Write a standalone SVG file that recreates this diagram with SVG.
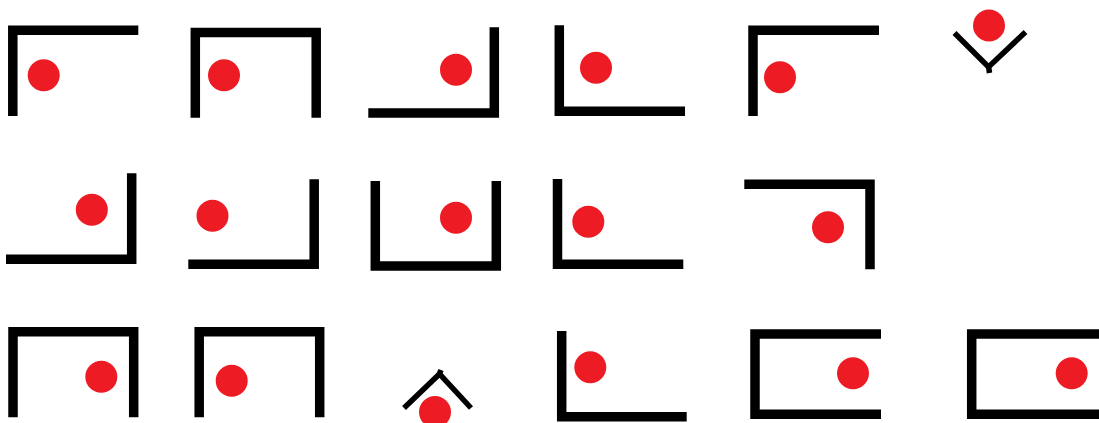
<svg xmlns="http://www.w3.org/2000/svg" width="1099" height="423" viewBox="0 0 1099 423">
<style>
.w{fill:none;stroke:#000;stroke-width:9.5;stroke-linejoin:miter;stroke-linecap:butt}
.t{fill:none;stroke:#000;stroke-width:5.5;stroke-linejoin:miter;stroke-linecap:butt}
.d{fill:#ED1C24}
</style>
<rect width="1099" height="423" fill="#fff"/>
<g id="s1"><polyline class="w" points="12.8,116 12.8,30.3 138.3,30.3"/><circle class="d" cx="43.7" cy="75.3" r="16"/></g>
<g id="s2"><polyline class="w" points="195.3,117.7 195.3,32.5 316.2,32.5 316.2,117.7"/><circle class="d" cx="224" cy="75.3" r="16"/></g>
<g id="s3"><polyline class="w" points="368.3,113 494.3,113 494.3,27.3"/><circle class="d" cx="456" cy="69.7" r="16"/></g>
<g id="s4"><polyline class="w" points="559.3,25.3 559.3,111.3 685,111.3"/><circle class="d" cx="596" cy="67.8" r="16"/></g>
<g id="s5"><polyline class="w" points="753,116 753,30.3 879,30.3"/><circle class="d" cx="780" cy="77.2" r="16"/></g>
<g id="s6"><polyline class="t" points="954.5,33 988.5,67 1025.5,32"/><path class="t" d="M988.5,66 L989.5,73"/><circle class="d" cx="989" cy="25.5" r="16"/></g>
<g id="s7"><polyline class="w" points="6,259.2 131.7,259.2 131.7,173.3"/><circle class="d" cx="91.8" cy="209.7" r="16"/></g>
<g id="s8"><polyline class="w" points="188.3,264.3 314.2,264.3 314.2,179.3"/><circle class="d" cx="212.5" cy="215.8" r="16"/></g>
<g id="s9"><polyline class="w" points="375.3,181 375.3,266 496.3,266 496.3,181"/><circle class="d" cx="456" cy="217.8" r="16"/></g>
<g id="s10"><polyline class="w" points="557.5,179 557.5,264.3 683.3,264.3"/><circle class="d" cx="588.3" cy="221.7" r="16"/></g>
<g id="s11"><polyline class="w" points="744.3,184.2 870,184.2 870,269.3"/><circle class="d" cx="828" cy="227.2" r="16"/></g>
<g id="s12"><polyline class="w" points="13,417.3 13,331.7 133.7,331.7 133.7,417.3"/><circle class="d" cx="101.3" cy="376.7" r="16"/></g>
<g id="s13"><polyline class="w" points="199.2,417.3 199.2,331.7 319.7,331.7 319.7,417.3"/><circle class="d" cx="231.7" cy="380.8" r="16"/></g>
<g id="s14"><polyline class="t" points="404,408 439.5,374 471,408"/><path class="t" d="M439,375 L441,370"/><circle class="d" cx="435" cy="412" r="16"/></g>
<g id="s15"><polyline class="w" points="561.7,331 561.7,416.7 686.7,416.7"/><circle class="d" cx="590.3" cy="367.2" r="16"/></g>
<g id="s16"><polyline class="w" points="881,334 755,334 755,414.3 881,414.3"/><circle class="d" cx="853" cy="373.3" r="16"/></g>
<g id="s17"><polyline class="w" points="1105,334 971.7,334 971.7,414.3 1105,414.3"/><circle class="d" cx="1071.7" cy="373.3" r="16"/></g>
</svg>
